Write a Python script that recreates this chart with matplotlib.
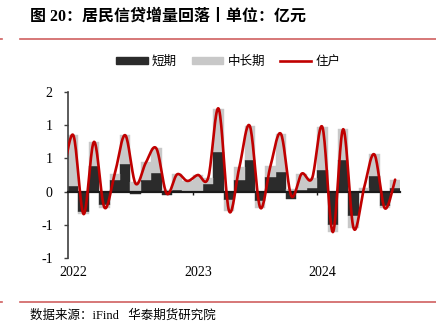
import matplotlib
matplotlib.use('Agg')
import matplotlib.pyplot as plt
import numpy as np
from matplotlib.lines import Line2D
from matplotlib.patches import Patch
from matplotlib.transforms import blended_transform_factory

# 2022-01 .. 2024-08, 万亿元
months = [f'{y}-{m:02d}' for y in (2022, 2023, 2024) for m in range(1, 13)][:32]
short_term = [0.08, -0.30, 0.38, -0.20, 0.17, 0.41, -0.03, 0.18, 0.28, -0.05, 0.03, 0.01,
              0.015, 0.11, 0.60, -0.13, 0.18, 0.48, -0.135, 0.22, 0.30, -0.11, 0.03, 0.05,
              0.33, -0.50, 0.47, -0.36, 0.00, 0.23, -0.22, 0.05]
mid_long = [0.77, -0.04, 0.37, -0.04, 0.10, 0.44, 0.15, 0.26, 0.37, 0.02, 0.23, 0.15,
            0.235, 0.10, 0.65, -0.16, 0.19, 0.51, -0.105, 0.17, 0.57, 0.045, 0.24, 0.15,
            0.64, -0.11, 0.47, -0.19, 0.05, 0.33, -0.03, 0.13]
# 住户合计，从 2021-12 开始
household = [0.20, 0.85, -0.34, 0.75, -0.24, 0.27, 0.85, 0.12, 0.44, 0.65, -0.03, 0.26, 0.16,
             0.25, 0.21, 1.25, -0.29, 0.37, 0.99, -0.24, 0.39, 0.87, -0.065, 0.27, 0.20,
             0.97, -0.61, 0.94, -0.55, 0.05, 0.56, -0.25, 0.18]
year_labels = ['2022', '2023', '2024']
ytick_vals = [-1.0, -0.5, 0.0, 0.5, 1.0, 1.5]
ytick_labels = ['-1', '-1', '0', '1', '1', '2']

DARK = '#2b2b2b'
LIGHT = '#c8c8c8'
RED = '#c00000'
CJK = ['Liberation Serif', 'Noto Sans CJK SC']


def catmull_rom(x, y, n=20):
    x = np.asarray(x, float)
    y = np.asarray(y, float)
    px = np.concatenate([[x[0]], x, [x[-1]]])
    py = np.concatenate([[y[0]], y, [y[-1]]])
    xs, ys = [], []
    t = np.linspace(0, 1, n, endpoint=False)
    for i in range(1, len(px) - 2):
        for p, out in ((px, xs), (py, ys)):
            p0, p1, p2, p3 = p[i - 1], p[i], p[i + 1], p[i + 2]
            out.append(0.5 * (2 * p1 + (-p0 + p2) * t
                              + (2 * p0 - 5 * p1 + 4 * p2 - p3) * t ** 2
                              + (-p0 + 3 * p1 - 3 * p2 + p3) * t ** 3))
    xs.append([x[-1]])
    ys.append([y[-1]])
    return np.concatenate(xs), np.concatenate(ys)


fig = plt.figure(figsize=(4.36, 3.31), dpi=100)
ax = fig.add_axes([68.1 / 436, 1 - 258 / 331, 332.2 / 436, 166 / 331])

x = np.arange(len(months))
s = np.array(short_term)
m = np.array(mid_long)
# 同号叠加，异号从零开始
bottom = np.where(np.sign(s) == np.sign(m), s, 0)
ax.bar(x, s, width=1.0, color=DARK, edgecolor=DARK, linewidth=0.3, zorder=2)
ax.bar(x, m, width=1.0, bottom=bottom, color=LIGHT, edgecolor=LIGHT, linewidth=0.3, zorder=2)

lx, ly = catmull_rom(np.arange(-1, len(months)), household)
ax.plot(lx, ly, color=RED, lw=1.9, zorder=4, solid_capstyle='round')

ax.set_xlim(-0.5, len(months) - 0.5)
ax.set_ylim(-1, 1.5)
ax.set_yticks(ytick_vals)
ax.set_yticklabels(ytick_labels, family='Liberation Serif', fontsize=10)
ax.tick_params(axis='y', direction='out', length=3, width=1, color='#404040', pad=8)

for side in ('top', 'right'):
    ax.spines[side].set_visible(False)
ax.spines['left'].set_color('#404040')
ax.spines['left'].set_linewidth(1.2)
ax.spines['bottom'].set_position(('data', 0))
ax.spines['bottom'].set_color('#1a1a1a')
ax.spines['bottom'].set_linewidth(1.6)
ax.spines['bottom'].set_zorder(3)
ax.set_xticks([11.5, 23.5])
ax.set_xticklabels([])
ax.tick_params(axis='x', direction='out', length=2.5, width=1, color='#1a1a1a')

trans = blended_transform_factory(ax.transData, ax.transAxes)
for i, lab in enumerate(year_labels):
    ax.text(i * 12, -0.085, lab, transform=trans, ha='center', va='center',
            family='Liberation Serif', fontsize=10)

handles = [Patch(color=DARK), Patch(color=LIGHT), Line2D([], [], color=RED, lw=1.9)]
fig.legend(handles, ['短期', '中长期', '住户'], loc='center', ncol=3,
           bbox_to_anchor=(228.5 / 436, 1 - 62 / 331), frameon=False,
           prop={'family': CJK, 'size': 9}, handlelength=2.5, handleheight=0.5,
           handletextpad=0.35, columnspacing=1.2)

fig.text(30 / 436, 1 - 17 / 331, '图 20：居民信贷增量回落丨单位：亿元', family=CJK,
         fontsize=11.5, fontweight='bold', ha='left', va='center')
fig.text(30 / 436, 1 - 316 / 331, '数据来源：iFind   华泰期货研究院', family=CJK,
         fontsize=9, ha='left', va='center')

for yy in (39, 302):
    fig.add_artist(Line2D([20 / 436, 1], [1 - yy / 331] * 2, color='#d06060', lw=1.2))
    fig.add_artist(Line2D([0, 2 / 436], [1 - yy / 331] * 2, color='#d06060', lw=1.2))

fig.savefig('out.png', dpi=100)
